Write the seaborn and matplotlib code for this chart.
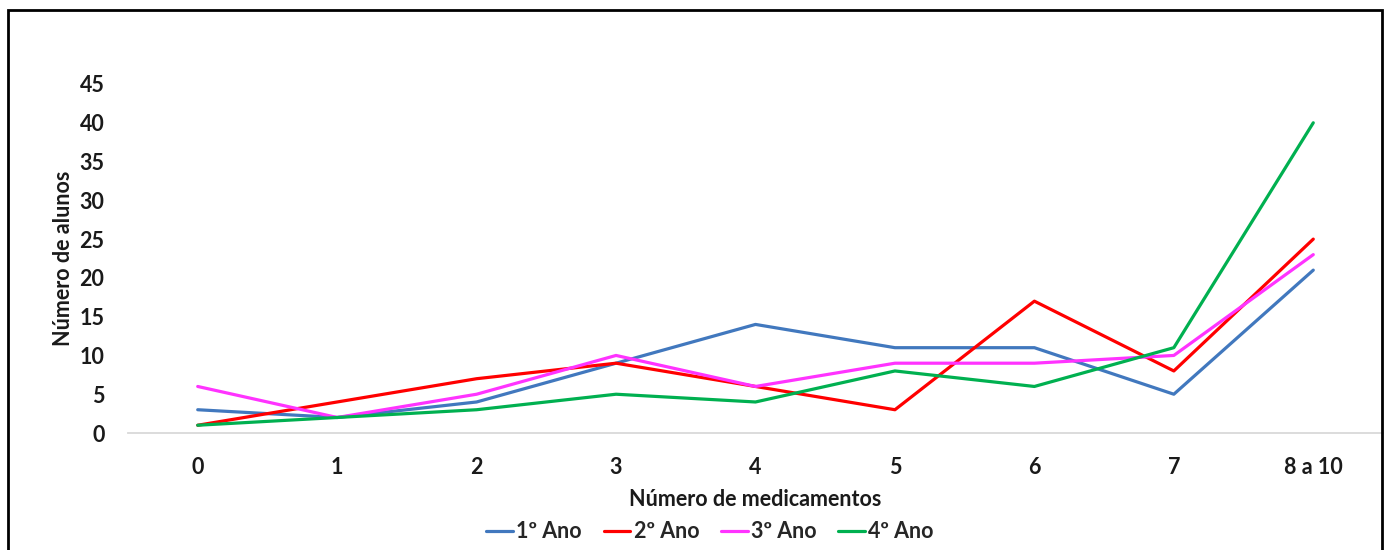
import matplotlib
matplotlib.use("Agg")
import matplotlib.pyplot as plt
import seaborn as sns
import pandas as pd
from matplotlib.patches import Rectangle

categories = ["0", "1", "2", "3", "4", "5", "6", "7", "8 a 10"]
ano1 = [3, 2, 4, 9, 14, 11, 11, 5, 21]
ano2 = [1, 4, 7, 9, 6, 3, 17, 8, 25]
ano3 = [6, 2, 5, 10, 6, 9, 9, 10, 23]
ano4 = [1, 2, 3, 5, 4, 8, 6, 11, 40]
series_names = ["1º Ano", "2º Ano", "3º Ano", "4º Ano"]
y_ticks = [0, 5, 10, 15, 20, 25, 30, 35, 40, 45]

colors = ["#4178BE", "#FF0000", "#FF33FF", "#00B050"]

rows = []
for name, vals in zip(series_names, [ano1, ano2, ano3, ano4]):
    for i, (cat, v) in enumerate(zip(categories, vals)):
        rows.append({"pos": i, "cat": cat, "serie": name, "alunos": v})
df = pd.DataFrame(rows)

sns.set_theme(style="white")
plt.rcParams["font.family"] = ["Lato", "DejaVu Sans"]

FS = 15.5
TXT = "#1a1a1a"

fig = plt.figure(figsize=(13.84, 5.5), dpi=100)
ax = fig.add_axes([128 / 1384, 1 - 433 / 550, (1383 - 128) / 1384, (433 - 84) / 550])

sns.lineplot(data=df, x="pos", y="alunos", hue="serie", hue_order=series_names,
             palette=colors, linewidth=2.3, ax=ax, legend=False, sort=False)

ax.set_xlim(-0.5, len(categories) - 0.5)
ax.set_ylim(0, 45)
ax.set_xticks(range(len(categories)))
ax.set_xticklabels(categories, fontsize=FS, fontweight="bold", color=TXT)
ax.set_yticks(y_ticks)
ax.set_yticklabels([str(t) for t in y_ticks], fontsize=FS, fontweight="bold", color=TXT)
ax.tick_params(axis="x", length=0, pad=17)
ax.tick_params(axis="y", length=0, pad=17)

for s in ["top", "right", "left"]:
    ax.spines[s].set_visible(False)
ax.spines["bottom"].set_color("#D9D9D9")
ax.spines["bottom"].set_linewidth(1.3)

ax.set_xlabel("Número de medicamentos", fontsize=FS, fontweight="bold", color=TXT, labelpad=8)
ax.set_ylabel("Número de alunos", fontsize=FS, fontweight="bold", color=TXT, labelpad=4)

handles = [plt.Line2D([], [], color=c, linewidth=2.3) for c in colors]
fig.legend(handles, series_names, loc="center", bbox_to_anchor=(710 / 1384, 1 - 532 / 550),
           ncol=4, frameon=False, handlelength=1.25, handletextpad=0.15, columnspacing=1.0,
           prop={"size": FS, "weight": "bold"})

fig.patches.append(Rectangle((8 / 1384, -0.05), (1382 - 8) / 1384, 1 - 10 / 550 + 0.05,
                             transform=fig.transFigure, fill=False, edgecolor="black",
                             linewidth=2, figure=fig))

fig.savefig("out.png", dpi=100, facecolor="white")
